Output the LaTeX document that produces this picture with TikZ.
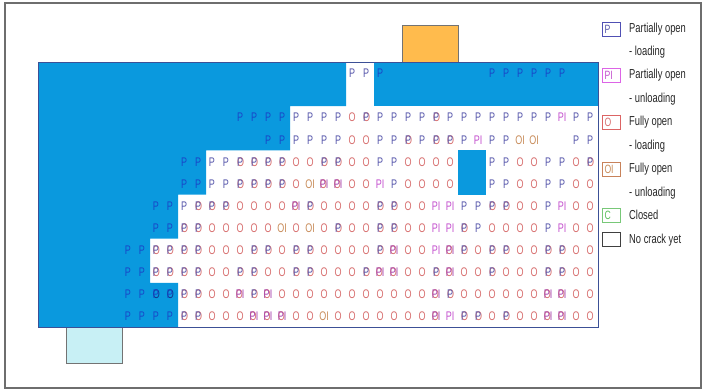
\documentclass[tikz,border=0pt]{standalone}
\usepackage{fontspec}
\newfontfamily\narrowsf{Liberation Sans}[FakeStretch=0.72]
\definecolor{beamblue}{RGB}{10,153,222}
\definecolor{beamedge}{RGB}{60,80,150}
\definecolor{cellP}{RGB}{85,85,170}
\definecolor{cellPd}{RGB}{25,70,200}
\definecolor{cellPI}{RGB}{195,80,205}
\definecolor{cellO}{RGB}{215,110,110}
\definecolor{cellOI}{RGB}{200,140,90}
\definecolor{cellC}{RGB}{90,190,90}
\definecolor{legP}{RGB}{80,80,180}
\definecolor{legPI}{RGB}{220,100,230}
\definecolor{legO}{RGB}{220,100,100}
\definecolor{legOI}{RGB}{200,130,90}
\definecolor{legC}{RGB}{120,200,120}
\definecolor{suptop}{RGB}{255,187,77}
\definecolor{supbot}{RGB}{200,240,245}
\definecolor{framegray}{RGB}{110,110,110}
\newcommand\gP{\textcolor{cellP}{P}}
\newcommand\gp{\textcolor{cellPd}{P}}
\newcommand\gI{\textcolor{cellPI}{PI}}
\newcommand\gO{\textcolor{cellO}{O}}
\newcommand\gQ{\textcolor{cellOI}{OI}}
\newcommand\gB{\rlap{\textcolor{cellO}{O}}\textcolor{cellP}{P}}
\newcommand\gb{\rlap{\textcolor{cellPd!70!black}{O}}\textcolor{cellPd}{P}}
\newcommand\gD{\rlap{\textcolor{cellO}{O}}\textcolor{cellPI!85!black}{PI}}
\begin{document}
\begin{tikzpicture}[x=1pt, y=-1pt,
    gridtxt/.style={inner sep=0pt, text height=9.5pt, text depth=0pt, font=\narrowsf\fontsize{12.5}{13}\selectfont},
    legbox/.style={line width=1pt, text width=14pt, align=left, inner xsep=2pt, inner ysep=0pt, minimum height=14pt, font=\narrowsf\fontsize{12}{13}\selectfont},
    legtxt/.style={anchor=west, inner sep=0pt, text height=9.5pt, text depth=2.5pt, text=black!85, font=\narrowsf\fontsize{13}{14}\selectfont}]
    \useasboundingbox (0,0) rectangle (705,391);
    \draw[line width=1.2pt, color=framegray] (5,3) rectangle (701,388);
    \filldraw[fill=suptop, draw=black!55, line width=0.8pt] (402,25) rectangle (458,62);
    \filldraw[fill=supbot, draw=black!55, line width=0.8pt] (66,327) rectangle (122,363);
    \fill[color=beamblue] (38,62) -- (346,62) -- (346,106.17) -- (290,106.17) -- (290,150.33) -- (206,150.33) -- (206,194.5) -- (178,194.5) -- (178,238.67) -- (150,238.67) -- (150,282.83) -- (178,282.83) -- (178,327) -- (38,327) -- cycle;
    \fill[color=beamblue] (374,62) rectangle (598,106.17);
    \fill[color=beamblue] (458,150.33) rectangle (486,194.5);
    \draw[line width=1pt, color=beamedge] (38,62) rectangle (598,327);
    \foreach \rowi/\colst/\codes in {
        0/22/{P,P,p}, 0/32/{p,p,p,p,p,p},
        2/14/{p,p,p,p,P,P,P,P,O,B,P,P,P,P,B,P,P,P,P,P,P,P,P,I,P,P},
        3/16/{p,p,P,P,P,P,O,O,P,P,B,P,B,B,P,I,P,P,Q,Q}, 3/38/{P,P},
        4/10/{p,p,P,P,B,B,B,B,O,O,B,B,O,O,P,P,O,O,O,O}, 4/32/{P,P,O,O,P,P,O,B},
        5/10/{p,p,P,P,B,B,B,B,O,Q,D,D,O,O,I,P,O,O,O,O}, 5/32/{P,P,O,O,P,P,O,O},
        6/8/{p,p,P,B,B,B,O,O,O,O,D,B,O,O,O,O,B,B,O,O,I,I,P,P,B,B,O,O,P,I,O,O},
        7/8/{p,p,B,B,O,O,O,O,O,Q,O,Q,O,B,O,O,B,B,O,O,I,I,B,P,O,O,O,O,P,I,O,O},
        8/6/{p,p,B,B,B,B,O,O,O,B,B,O,B,B,O,O,O,O,B,D,O,O,I,D,B,O,B,B,O,O,B,B,O,O},
        9/6/{p,p,B,B,B,B,O,O,B,B,O,O,B,B,O,O,O,B,D,D,O,O,B,D,O,O,B,O,O,O,B,B,O,O},
        10/6/{p,p,b,b,B,B,O,O,D,B,D,O,O,O,O,O,O,O,O,O,O,O,D,B,O,O,O,O,O,O,D,D,O,O},
        11/6/{p,p,p,p,B,B,O,O,O,D,D,D,O,O,Q,O,O,O,O,O,O,O,D,I,B,B,O,B,O,O,D,D,O,O}}
    {
        \foreach \code [count=\idx] in \codes {
            \pgfmathtruncatemacro\colj{\colst+\idx-1}
            \node[gridtxt] (g\rowi-\colj) at ({44+14*\colj},{62+22.083*(\rowi+0.5)}) {\csname g\code\endcsname};
        }
    }
    \node[legbox, draw=legP, text=cellP] (boxP) at (611.5,29) {P};
    \node[legtxt] (labP) at (629,29) {Partially open};
    \node[legtxt] (labPb) at (629,52) {- loading};
    \node[legbox, draw=legPI, text=cellPI] (boxPI) at (611.5,75) {PI};
    \node[legtxt] (labPI) at (629,75) {Partially open};
    \node[legtxt] (labPIb) at (629,99) {- unloading};
    \node[legbox, draw=legO, text=cellO] (boxO) at (611.5,122) {O};
    \node[legtxt] (labO) at (629,122) {Fully open};
    \node[legtxt] (labOb) at (629,146) {- loading};
    \node[legbox, draw=legOI, text=cellOI] (boxOI) at (611.5,169) {OI};
    \node[legtxt] (labOI) at (629,169) {Fully open};
    \node[legtxt] (labOIb) at (629,193) {- unloading};
    \node[legbox, draw=legC, text=cellC] (boxC) at (611.5,215.5) {C};
    \node[legtxt] (labC) at (629,215.5) {Closed};
    \node[legbox, draw=black!75] (boxN) at (611.5,239.5) {};
    \node[legtxt] (labN) at (629,239.5) {No crack yet};
\end{tikzpicture}
\end{document}
